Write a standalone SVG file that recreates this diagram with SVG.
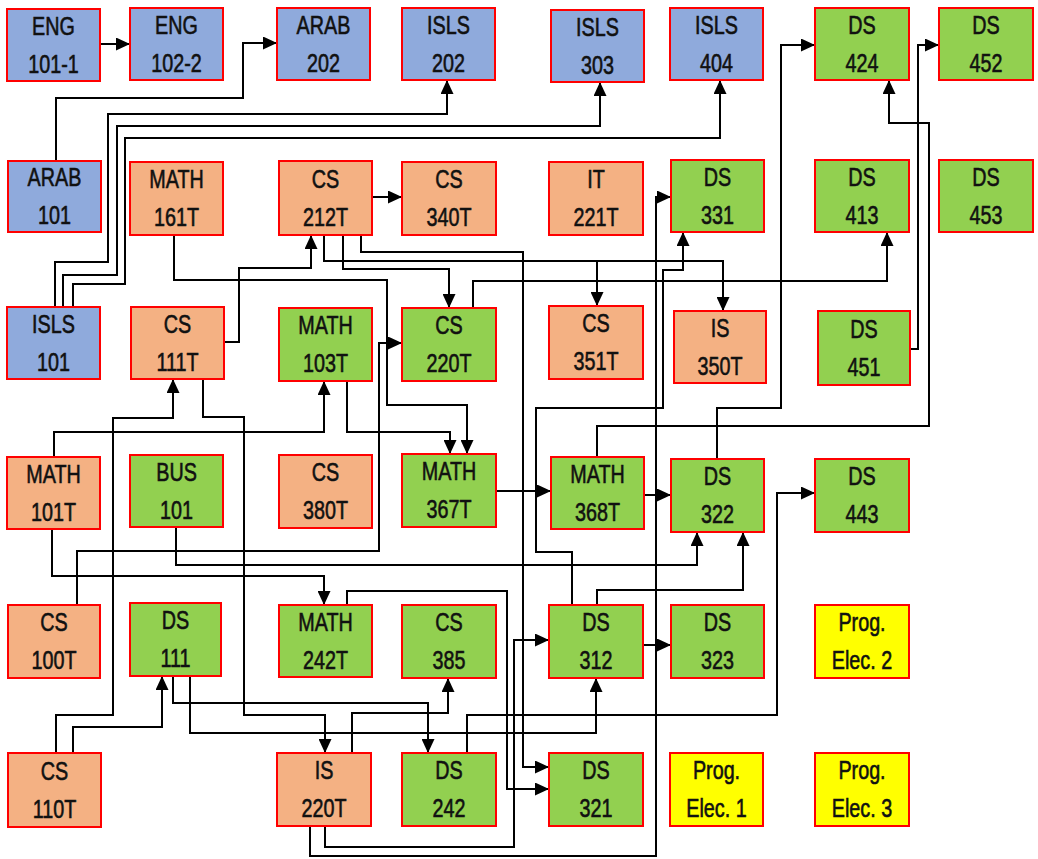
<svg xmlns="http://www.w3.org/2000/svg" width="1038" height="859" viewBox="0 0 1038 859">
<style>
.n rect{stroke:#FF0000;stroke-width:2}
.b rect{fill:#8FAADC}
.o rect{fill:#F4B183}
.g rect{fill:#92D050}
.y rect{fill:#FFFF00}
.n text{font-family:"Liberation Sans",Arial,sans-serif;font-size:26px;fill:#111;stroke:#111;stroke-width:0.6;text-anchor:middle}
#connectors path{fill:none;stroke:#000;stroke-width:2;marker-end:url(#ah)}
</style>
<defs>
<marker id="ah" markerUnits="userSpaceOnUse" markerWidth="14" markerHeight="13" refX="13" refY="6.5" orient="auto">
<path d="M0,0 L14,6.5 L0,13 z" fill="#000"/>
</marker>
</defs>
<rect width="1038" height="859" fill="#fff"/>
<g id="connectors">
<path d="M100,44 H129"/>
<path d="M56,161 V98 H243 V43 H276"/>
<path d="M55,307 V262 H108 V114 H447 V81"/>
<path d="M63,307 V275 H117 V126 H600 V83"/>
<path d="M73,307 V284 H125 V138 H720 V81"/>
<path d="M372,197 H401"/>
<path d="M224,342 H239 V268 H311 V236"/>
<path d="M174,235 V280 H387 V405 H467 V453"/>
<path d="M324,235 V261 H597 V305"/>
<path d="M324,235 V261 H723 V310"/>
<path d="M343,235 V269 H449 V307"/>
<path d="M361,235 V252 H523 V767 H548"/>
<path d="M473,308 V281 H887 V233"/>
<path d="M310,826 V856 H656 V197 H670"/>
<path d="M572,605 V552 H536 V408 H663 V270 H683 V233"/>
<path d="M597,457 V426 H929 V123 H889 V81"/>
<path d="M910,349 H918 V45 H938"/>
<path d="M717,459 V408 H781 V45 H814"/>
<path d="M56,753 V715 H113 V418 H173 V380"/>
<path d="M203,379 V417 H244 V715 H325 V752"/>
<path d="M54,457 V432 H324 V382"/>
<path d="M347,381 V432 H450 V453"/>
<path d="M77,605 V551 H379 V343 H401"/>
<path d="M496,491 H550"/>
<path d="M644,495 H670"/>
<path d="M176,527 V565 H697 V533"/>
<path d="M597,605 V590 H743 V533"/>
<path d="M467,753 V715 H777 V493 H814"/>
<path d="M52,529 V576 H324 V604"/>
<path d="M347,605 V591 H507 V789 H548"/>
<path d="M643,645 H670"/>
<path d="M325,826 V847 H514 V640 H548"/>
<path d="M173,676 V703 H428 V752"/>
<path d="M190,676 V733 H596 V679"/>
<path d="M73,753 V727 H162 V677"/>
<path d="M352,753 V713 H448 V679"/>
</g>
<g id="eng101" class="n b"><rect x="7" y="9" width="93" height="72"/><text transform="translate(53.5 0) scale(0.76 1)"><tspan x="0" y="35">ENG</tspan><tspan x="0" y="73">101-1</tspan></text></g>
<g id="eng102" class="n b"><rect x="130" y="8" width="93" height="72"/><text transform="translate(176.5 0) scale(0.76 1)"><tspan x="0" y="34">ENG</tspan><tspan x="0" y="72">102-2</tspan></text></g>
<g id="arab202" class="n b"><rect x="277" y="8" width="93" height="72"/><text transform="translate(323.5 0) scale(0.76 1)"><tspan x="0" y="34">ARAB</tspan><tspan x="0" y="72">202</tspan></text></g>
<g id="isls202" class="n b"><rect x="402" y="8" width="93" height="72"/><text transform="translate(448.5 0) scale(0.76 1)"><tspan x="0" y="34">ISLS</tspan><tspan x="0" y="72">202</tspan></text></g>
<g id="isls303" class="n b"><rect x="551" y="10" width="93" height="72"/><text transform="translate(597.5 0) scale(0.76 1)"><tspan x="0" y="36">ISLS</tspan><tspan x="0" y="74">303</tspan></text></g>
<g id="isls404" class="n b"><rect x="670" y="8" width="93" height="72"/><text transform="translate(716.5 0) scale(0.76 1)"><tspan x="0" y="34">ISLS</tspan><tspan x="0" y="72">404</tspan></text></g>
<g id="ds424" class="n g"><rect x="815" y="8" width="94" height="72"/><text transform="translate(862 0) scale(0.76 1)"><tspan x="0" y="34">DS</tspan><tspan x="0" y="72">424</tspan></text></g>
<g id="ds452" class="n g"><rect x="939" y="8" width="94" height="72"/><text transform="translate(986 0) scale(0.76 1)"><tspan x="0" y="34">DS</tspan><tspan x="0" y="72">452</tspan></text></g>
<g id="arab101" class="n b"><rect x="8" y="161" width="93" height="71"/><text transform="translate(54.5 0) scale(0.76 1)"><tspan x="0" y="186.5">ARAB</tspan><tspan x="0" y="224.5">101</tspan></text></g>
<g id="math161t" class="n o"><rect x="130" y="162" width="93" height="73"/><text transform="translate(176.5 0) scale(0.76 1)"><tspan x="0" y="188.5">MATH</tspan><tspan x="0" y="226.5">161T</tspan></text></g>
<g id="cs212t" class="n o"><rect x="279" y="161" width="93" height="74"/><text transform="translate(325.5 0) scale(0.76 1)"><tspan x="0" y="188">CS</tspan><tspan x="0" y="226">212T</tspan></text></g>
<g id="cs340t" class="n o"><rect x="402" y="162" width="94" height="73"/><text transform="translate(449 0) scale(0.76 1)"><tspan x="0" y="188.5">CS</tspan><tspan x="0" y="226.5">340T</tspan></text></g>
<g id="it221t" class="n o"><rect x="549" y="162" width="94" height="73"/><text transform="translate(596 0) scale(0.76 1)"><tspan x="0" y="188.5">IT</tspan><tspan x="0" y="226.5">221T</tspan></text></g>
<g id="ds331" class="n g"><rect x="671" y="160" width="93" height="72"/><text transform="translate(717.5 0) scale(0.76 1)"><tspan x="0" y="186">DS</tspan><tspan x="0" y="224">331</tspan></text></g>
<g id="ds413" class="n g"><rect x="815" y="160" width="94" height="72"/><text transform="translate(862 0) scale(0.76 1)"><tspan x="0" y="186">DS</tspan><tspan x="0" y="224">413</tspan></text></g>
<g id="ds453" class="n g"><rect x="939" y="160" width="94" height="72"/><text transform="translate(986 0) scale(0.76 1)"><tspan x="0" y="186">DS</tspan><tspan x="0" y="224">453</tspan></text></g>
<g id="isls101" class="n b"><rect x="7" y="307" width="93" height="72"/><text transform="translate(53.5 0) scale(0.76 1)"><tspan x="0" y="333">ISLS</tspan><tspan x="0" y="371">101</tspan></text></g>
<g id="cs111t" class="n o"><rect x="131" y="307" width="93" height="72"/><text transform="translate(177.5 0) scale(0.76 1)"><tspan x="0" y="333">CS</tspan><tspan x="0" y="371">111T</tspan></text></g>
<g id="math103t" class="n g"><rect x="279" y="308" width="93" height="73"/><text transform="translate(325.5 0) scale(0.76 1)"><tspan x="0" y="334.5">MATH</tspan><tspan x="0" y="372.5">103T</tspan></text></g>
<g id="cs220t" class="n g"><rect x="402" y="308" width="94" height="73"/><text transform="translate(449 0) scale(0.76 1)"><tspan x="0" y="334.5">CS</tspan><tspan x="0" y="372.5">220T</tspan></text></g>
<g id="cs351t" class="n o"><rect x="549" y="306" width="94" height="73"/><text transform="translate(596 0) scale(0.76 1)"><tspan x="0" y="332.5">CS</tspan><tspan x="0" y="370.5">351T</tspan></text></g>
<g id="is350t" class="n o"><rect x="674" y="311" width="92" height="72"/><text transform="translate(720 0) scale(0.76 1)"><tspan x="0" y="337">IS</tspan><tspan x="0" y="375">350T</tspan></text></g>
<g id="ds451" class="n g"><rect x="818" y="311" width="92" height="74"/><text transform="translate(864 0) scale(0.76 1)"><tspan x="0" y="338">DS</tspan><tspan x="0" y="376">451</tspan></text></g>
<g id="math101t" class="n o"><rect x="7" y="457" width="93" height="72"/><text transform="translate(53.5 0) scale(0.76 1)"><tspan x="0" y="483">MATH</tspan><tspan x="0" y="521">101T</tspan></text></g>
<g id="bus101" class="n g"><rect x="130" y="455" width="93" height="72"/><text transform="translate(176.5 0) scale(0.76 1)"><tspan x="0" y="481">BUS</tspan><tspan x="0" y="519">101</tspan></text></g>
<g id="cs380t" class="n o"><rect x="279" y="455" width="93" height="73"/><text transform="translate(325.5 0) scale(0.76 1)"><tspan x="0" y="481.5">CS</tspan><tspan x="0" y="519.5">380T</tspan></text></g>
<g id="math367t" class="n g"><rect x="402" y="454" width="94" height="73"/><text transform="translate(449 0) scale(0.76 1)"><tspan x="0" y="480.5">MATH</tspan><tspan x="0" y="518.5">367T</tspan></text></g>
<g id="math368t" class="n g"><rect x="551" y="457" width="93" height="72"/><text transform="translate(597.5 0) scale(0.76 1)"><tspan x="0" y="483">MATH</tspan><tspan x="0" y="521">368T</tspan></text></g>
<g id="ds322" class="n g"><rect x="671" y="459" width="93" height="73"/><text transform="translate(717.5 0) scale(0.76 1)"><tspan x="0" y="485.5">DS</tspan><tspan x="0" y="523.5">322</tspan></text></g>
<g id="ds443" class="n g"><rect x="815" y="459" width="94" height="73"/><text transform="translate(862 0) scale(0.76 1)"><tspan x="0" y="485.5">DS</tspan><tspan x="0" y="523.5">443</tspan></text></g>
<g id="cs100t" class="n o"><rect x="8" y="605" width="92" height="73"/><text transform="translate(54 0) scale(0.76 1)"><tspan x="0" y="631.5">CS</tspan><tspan x="0" y="669.5">100T</tspan></text></g>
<g id="ds111" class="n g"><rect x="130" y="603" width="91" height="73"/><text transform="translate(175.5 0) scale(0.76 1)"><tspan x="0" y="629.5">DS</tspan><tspan x="0" y="667.5">111</tspan></text></g>
<g id="math242t" class="n g"><rect x="279" y="605" width="93" height="72"/><text transform="translate(325.5 0) scale(0.76 1)"><tspan x="0" y="631">MATH</tspan><tspan x="0" y="669">242T</tspan></text></g>
<g id="cs385" class="n g"><rect x="402" y="605" width="94" height="73"/><text transform="translate(449 0) scale(0.76 1)"><tspan x="0" y="631.5">CS</tspan><tspan x="0" y="669.5">385</tspan></text></g>
<g id="ds312" class="n g"><rect x="549" y="605" width="94" height="73"/><text transform="translate(596 0) scale(0.76 1)"><tspan x="0" y="631.5">DS</tspan><tspan x="0" y="669.5">312</tspan></text></g>
<g id="ds323" class="n g"><rect x="671" y="605" width="93" height="73"/><text transform="translate(717.5 0) scale(0.76 1)"><tspan x="0" y="631.5">DS</tspan><tspan x="0" y="669.5">323</tspan></text></g>
<g id="progelec2" class="n y"><rect x="815" y="605" width="94" height="73"/><text transform="translate(862 0) scale(0.76 1)"><tspan x="0" y="631.5">Prog.</tspan><tspan x="0" y="669.5">Elec. 2</tspan></text></g>
<g id="cs110t" class="n o"><rect x="8" y="753" width="93" height="74"/><text transform="translate(54.5 0) scale(0.76 1)"><tspan x="0" y="780">CS</tspan><tspan x="0" y="818">110T</tspan></text></g>
<g id="is220t" class="n o"><rect x="277" y="753" width="94" height="73"/><text transform="translate(324 0) scale(0.76 1)"><tspan x="0" y="779.5">IS</tspan><tspan x="0" y="817.5">220T</tspan></text></g>
<g id="ds242" class="n g"><rect x="402" y="753" width="94" height="73"/><text transform="translate(449 0) scale(0.76 1)"><tspan x="0" y="779.5">DS</tspan><tspan x="0" y="817.5">242</tspan></text></g>
<g id="ds321" class="n g"><rect x="549" y="753" width="94" height="73"/><text transform="translate(596 0) scale(0.76 1)"><tspan x="0" y="779.5">DS</tspan><tspan x="0" y="817.5">321</tspan></text></g>
<g id="progelec1" class="n y"><rect x="670" y="753" width="93" height="73"/><text transform="translate(716.5 0) scale(0.76 1)"><tspan x="0" y="779.5">Prog.</tspan><tspan x="0" y="817.5">Elec. 1</tspan></text></g>
<g id="progelec3" class="n y"><rect x="815" y="753" width="94" height="73"/><text transform="translate(862 0) scale(0.76 1)"><tspan x="0" y="779.5">Prog.</tspan><tspan x="0" y="817.5">Elec. 3</tspan></text></g>
</svg>
